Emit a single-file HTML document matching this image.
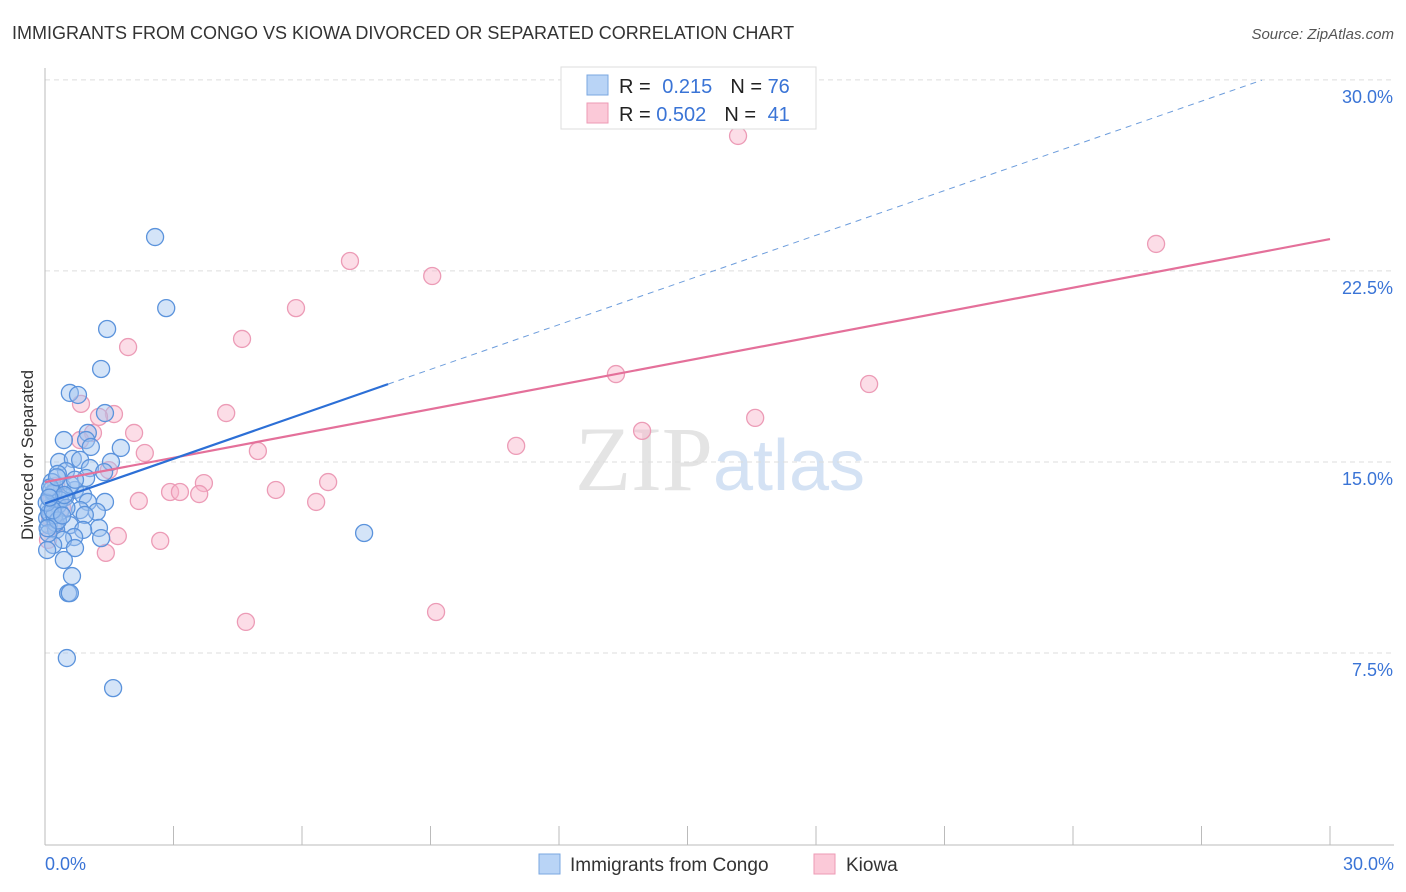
<!DOCTYPE html>
<html><head><meta charset="utf-8"><style>
body{margin:0;background:#fff;font-family:"Liberation Sans",sans-serif;}
</style></head><body>
<svg id="chart" width="1406" height="892" xmlns="http://www.w3.org/2000/svg" style="display:block">
<text x="12" y="39" font-size="18" fill="#333">IMMIGRANTS FROM CONGO VS KIOWA DIVORCED OR SEPARATED CORRELATION CHART</text>
<text x="1394" y="39" font-size="15" fill="#555" text-anchor="end" font-style="italic">Source: ZipAtlas.com</text>
<text x="720" y="490" font-size="92" text-anchor="middle" fill="#e4e4e4" font-family="Liberation Serif,serif">ZIP<tspan fill="#d4e2f4" font-family="Liberation Sans,sans-serif" font-size="72">atlas</tspan></text>
<text transform="translate(33,455) rotate(-90)" font-size="17" fill="#333" text-anchor="middle">Divorced or Separated</text>
<g id="grid"></g><g id="pts"></g><g id="lines"></g>
<g>
<rect x="561" y="67" width="255" height="62" fill="#fff" stroke="#ddd"/>
<rect x="587" y="75" width="21" height="20" fill="#b9d4f6" stroke="#7aa7e0"/>
<rect x="587" y="103" width="21" height="20" fill="#fbc9d8" stroke="#ee9ab5"/>
<text x="619" y="93" font-size="20" fill="#222">R = <tspan fill="#3a74d6" dx="6">0.215</tspan><tspan dx="18" fill="#222">N = </tspan><tspan fill="#3a74d6">76</tspan></text>
<text x="619" y="121" font-size="20" fill="#222">R = <tspan fill="#3a74d6">0.502</tspan><tspan dx="18" fill="#222">N = </tspan><tspan fill="#3a74d6" dx="6">41</tspan></text>
</g>
<g>
<rect x="539" y="854" width="21" height="20" fill="#b9d4f6" stroke="#7aa7e0"/>
<text x="570" y="871" font-size="19" fill="#333">Immigrants from Congo</text>
<rect x="814" y="854" width="21" height="20" fill="#fbc9d8" stroke="#ee9ab5"/>
<text x="846" y="871" font-size="19" fill="#333">Kiowa</text>
</g>
</svg>
<script>
const yTicks=[7.5,15,22.5,30];
const yTickLabels=["7.5%","15.0%","22.5%","30.0%"];
const xTicks=[0,3,6,9,12,15,18,21,24,27,30];
const blueX=[2.57,2.83,1.45,1.31,0.58,0.77,1.40,1.0,0.96,0.44,1.77,1.07,0.33,0.65,0.82,1.54,0.49,1.05,1.38,0.30,0.96,0.16,0.40,0.70,0.19,0.89,1.40,0.47,1.0,0.26,0.09,0.35,0.82,1.21,0.14,0.93,0.58,1.26,0.09,0.26,0.89,0.68,1.31,0.42,0.19,0.70,0.05,0.44,0.63,0.54,0.58,0.51,1.59,7.45,0.12,0.2,0.3,0.05,0.1,0.25,0.15,0.6,0.35,0.08,0.22,0.5,0.7,0.04,0.3,0.12,0.18,0.45,0.06,0.28,0.1,0.4];
const blueY=[23.83,21.04,20.22,18.65,17.71,17.63,16.92,16.14,15.86,15.86,15.55,15.59,15.0,15.12,15.08,15.0,14.64,14.76,14.6,14.53,14.37,14.21,14.02,13.9,13.74,13.70,13.43,13.62,13.43,13.39,13.19,13.04,13.11,13.04,12.92,12.92,12.52,12.41,12.52,12.33,12.33,12.05,12.01,11.94,11.74,11.62,11.54,11.15,10.52,9.85,9.85,7.30,6.12,12.21,13.6,13.8,13.3,12.8,13.0,12.6,13.9,14.1,13.5,12.2,12.9,13.2,14.3,13.4,12.7,14.0,13.1,13.7,12.4,14.4,13.6,12.9];
const pinkX=[16.18,25.94,7.12,9.04,5.86,4.60,1.94,13.33,19.24,0.84,4.23,1.61,1.26,16.58,2.08,1.12,13.94,0.82,11.0,4.97,2.33,1.49,3.71,6.61,0.26,2.92,3.15,5.39,3.60,2.19,6.33,0.16,0.23,1.70,2.69,1.42,4.69,9.13,0.07,0.4,0.12];
const pinkY=[27.8,23.56,22.89,22.30,21.04,19.83,19.51,18.45,18.06,17.28,16.92,16.88,16.77,16.73,16.14,16.14,16.22,15.86,15.63,15.43,15.35,14.68,14.17,14.21,14.06,13.82,13.82,13.9,13.74,13.47,13.43,13.58,12.52,12.09,11.90,11.43,8.72,9.11,11.94,13.2,12.8];
const blueLine=[13.37,0.585], blueSolidEnd=8.01, blueDashEnd=28.41;
const pinkLine=[14.21,0.318];
const X=v=>45+v*1285/30, Y=v=>844-v*25.47;
const NS="http://www.w3.org/2000/svg";
function mk(p,t,a){const e=document.createElementNS(NS,t);for(const k in a)e.setAttribute(k,a[k]);p.appendChild(e);return e;}
const grid=document.getElementById('grid');
yTicks.forEach((t,i)=>{
 const l=mk(grid,'line',{x1:45,x2:1394,y1:Y(t),y2:Y(t),stroke:'#ddd','stroke-dasharray':'5,4'});
 
 
 const tx=mk(grid,'text',{x:1393,y:Y(t)+23,'font-size':18,fill:'#3a74d6','text-anchor':'end'});
 tx.textContent=yTickLabels[i];
 
 
});
const ax=mk(grid,'line',{x1:45,x2:1394,y1:845,y2:845,stroke:'#bbb'});


const ay=mk(grid,'line',{x1:45,x2:45,y1:68,y2:845,stroke:'#bbb'});


xTicks.forEach(t=>{const l=mk(grid,'line',{x1:X(t),x2:X(t),y1:826,y2:845,stroke:'#bbb'});
 
 });
const t0=mk(grid,'text',{x:45,y:870,'font-size':18,fill:'#3a74d6'});t0.textContent='0.0%';


const t1=mk(grid,'text',{x:1394,y:870,'font-size':18,fill:'#3a74d6','text-anchor':'end'});t1.textContent='30.0%';


const pts=document.getElementById('pts');
pinkX.forEach((x,i)=>{const c=mk(pts,'circle',{cx:X(x),cy:Y(pinkY[i]),r:8.5,fill:'rgba(248,180,202,0.45)',stroke:'#ec9bb6','stroke-width':1.3});
 
 });
blueX.forEach((x,i)=>{const c=mk(pts,'circle',{cx:X(x),cy:Y(blueY[i]),r:8.5,fill:'rgba(160,196,240,0.45)',stroke:'#5b93dc','stroke-width':1.3});
 
 });
const lines=document.getElementById('lines');
const f=(L,x)=>L[0]+L[1]*x;
const bd=mk(lines,'line',{x1:X(blueSolidEnd),y1:Y(f(blueLine,blueSolidEnd)),x2:X(blueDashEnd),y2:Y(f(blueLine,blueDashEnd)),stroke:'#6d9ddc','stroke-width':1,'stroke-dasharray':'6,5'});


const pl=mk(lines,'line',{x1:X(0),y1:Y(f(pinkLine,0)),x2:X(30),y2:Y(f(pinkLine,30)),stroke:'#e4709a','stroke-width':2.2});


const bl=mk(lines,'line',{x1:X(0),y1:Y(f(blueLine,0)),x2:X(blueSolidEnd),y2:Y(f(blueLine,blueSolidEnd)),stroke:'#2c6fd6','stroke-width':2.2});


</script>
</body></html>
